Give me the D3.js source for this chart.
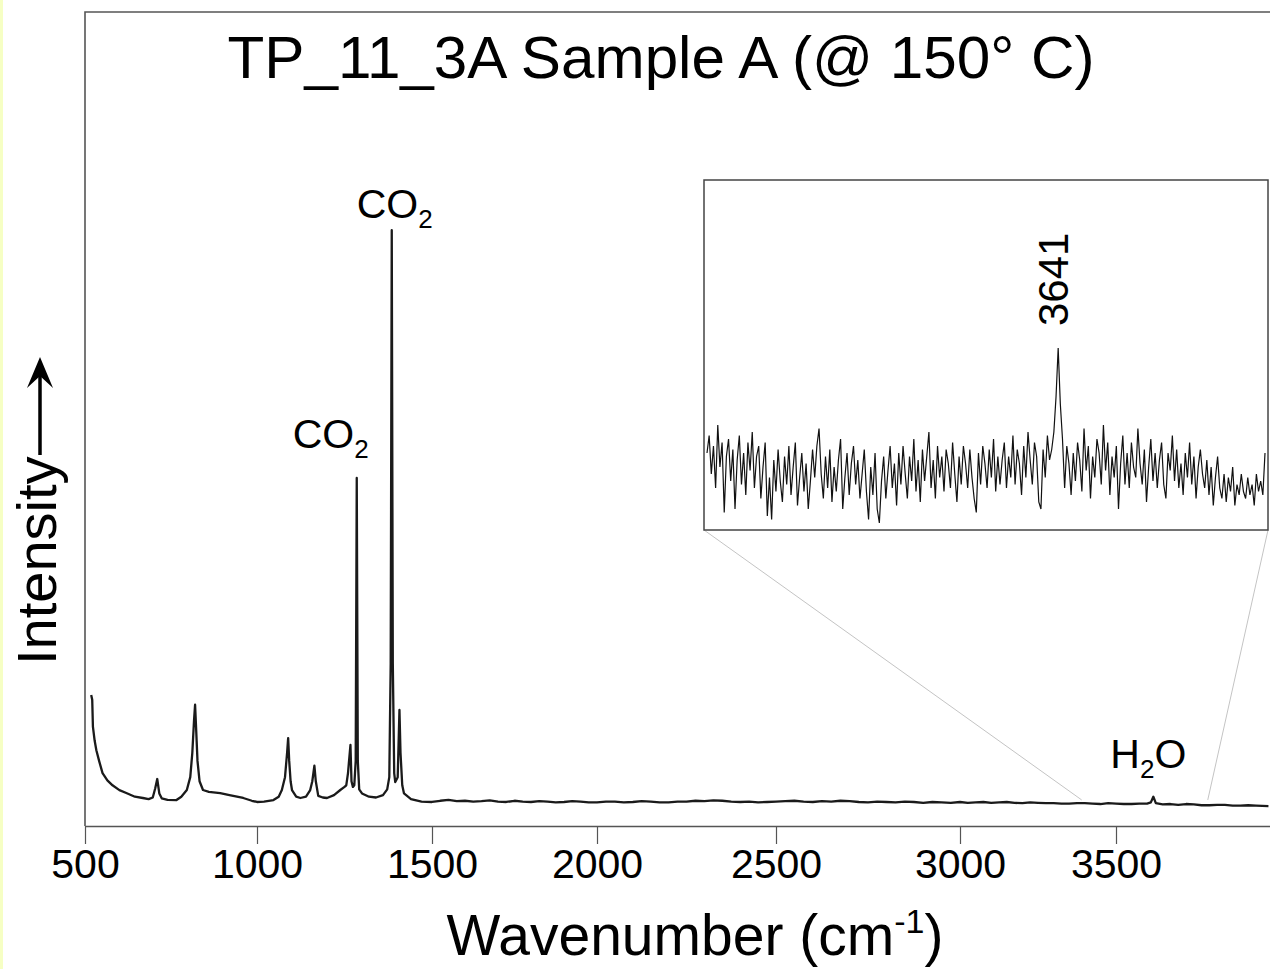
<!DOCTYPE html>
<html>
<head>
<meta charset="utf-8">
<script src="https://cdn.jsdelivr.net/npm/d3@7"></script>
<style>
  body { margin: 0; background: #fff; }
  text { font-family: "Liberation Sans", Arial, sans-serif; fill: #000; }
</style>
</head>
<body>
<div id="chart"></div>
<script>
// tick values of the wavenumber axis (spacing on the original axis is uneven)
var xTicks = [500, 1000, 1500, 2000, 2500, 3000, 3500];

// main spectrum: [wavenumber, intensity]
var spectrum = [
    [518, 16.1], [521, 15.5], [523, 12.2], [528, 10.5], [533, 9.3], [541, 8.0], [551, 6.5],
    [565, 5.6], [580, 5.0], [600, 4.4], [620, 4.05], [645, 3.6], [668, 3.44], [685, 3.3],
    [697, 3.5], [704, 4.6], [710, 5.77], [716, 4.0], [723, 3.4], [740, 3.2], [766, 3.19],
    [780, 3.6], [796, 4.42], [806, 6.0], [812, 9.0], [817, 13.0], [820, 14.9], [823, 12.0],
    [827, 8.0], [833, 5.5], [843, 4.42], [860, 4.2], [893, 4.05], [920, 3.8], [960, 3.44],
    [985, 3.1], [1000, 2.95], [1020, 3.0], [1047, 3.19], [1062, 3.6], [1071, 4.42], [1080, 6.0],
    [1086, 9.0], [1089, 10.8], [1092, 8.0], [1096, 5.5], [1100, 4.42], [1112, 3.6], [1124, 3.44],
    [1140, 3.6], [1152, 4.42], [1158, 5.5], [1164, 7.4], [1168, 5.5], [1175, 3.7], [1188, 3.5],
    [1200, 3.44], [1220, 3.8], [1238, 4.42], [1250, 4.8], [1255, 5.0], [1260, 6.5], [1264, 8.5],
    [1267, 9.95], [1270, 5.5], [1274, 4.8], [1278, 5.0], [1282, 8.0], [1285, 42.75], [1288, 8.0],
    [1292, 4.5], [1300, 4.0], [1320, 3.6], [1340, 3.5], [1360, 3.8], [1372, 4.5], [1378, 6.0],
    [1382, 20.0], [1385, 73.2], [1388, 20.0], [1392, 6.5], [1395, 5.4], [1402, 6.0], [1407, 14.25],
    [1410, 9.0], [1415, 5.0], [1420, 4.0], [1440, 3.3], [1470, 3.0], [1500, 2.95], [1525, 3.1],
    [1550, 3.2], [1575, 3.05], [1600, 3.1], [1625, 3.0], [1650, 3.05], [1675, 3.15], [1700, 3.0],
    [1725, 2.95], [1750, 3.1], [1775, 3.0], [1800, 2.95], [1825, 3.05], [1850, 3.0], [1875, 2.9],
    [1900, 2.95], [1925, 3.05], [1950, 3.0], [1975, 2.9], [2000, 2.9], [2025, 3.0], [2050, 3.0],
    [2075, 2.9], [2100, 2.95], [2125, 3.05], [2150, 3.0], [2175, 2.9], [2200, 2.9], [2225, 3.0],
    [2250, 3.0], [2275, 3.1], [2300, 3.05], [2325, 3.15], [2350, 3.1], [2375, 3.0], [2400, 2.95],
    [2425, 3.0], [2450, 2.9], [2475, 2.95], [2500, 3.0], [2525, 3.05], [2550, 3.1], [2575, 3.0],
    [2600, 2.95], [2625, 3.05], [2650, 3.0], [2675, 3.1], [2700, 3.05], [2725, 2.95], [2750, 2.9],
    [2775, 3.0], [2800, 2.95], [2825, 2.9], [2850, 3.0], [2875, 2.95], [2900, 2.85], [2925, 2.95],
    [2950, 2.9], [2975, 2.85], [3000, 2.95], [3025, 2.85], [3050, 2.9], [3075, 2.95], [3100, 2.85],
    [3125, 2.9], [3150, 2.95], [3175, 2.85], [3200, 2.8], [3225, 2.9], [3250, 2.85], [3275, 2.8],
    [3300, 2.8], [3325, 2.75], [3350, 2.75], [3375, 2.8], [3400, 2.8], [3425, 2.75], [3450, 2.7],
    [3475, 2.8], [3500, 2.75], [3525, 2.7], [3550, 2.7], [3575, 2.75], [3600, 2.75], [3612, 2.9],
    [3620, 3.6], [3628, 2.8], [3650, 2.65], [3675, 2.7], [3700, 2.6], [3725, 2.7], [3750, 2.65],
    [3775, 2.55], [3800, 2.55], [3825, 2.6], [3850, 2.6], [3875, 2.5], [3900, 2.5], [3925, 2.55],
    [3950, 2.5], [3990, 2.45]
]

// zoomed region shown in the inset
var insetRange = [3390, 3795]
var insetCounts = [
    22,27,16,24,12,30,18,25,5,21,
    26,14,23,6,20,27,13,22,10,25,
    17,28,12,21,24,9,18,25,4,15,
    3,20,11,23,14,8,21,13,24,10,
    18,25,7,15,22,11,19,6,14,23,
    15,24,29,16,9,21,12,23,8,18,
    11,20,26,6,15,22,10,19,24,13,
    20,9,16,23,11,3,18,10,22,6,
    2,14,21,9,17,24,12,19,7,22,
    13,24,16,9,21,14,26,11,20,8,
    23,14,21,28,12,20,9,24,15,21,
    11,23,19,12,25,16,8,21,13,24,
    19,12,23,15,9,5,22,13,24,19,
    12,23,15,26,11,21,13,20,25,12,
    21,15,27,13,23,19,10,24,15,28,
    20,13,25,21,8,6,23,15,27,20,
    23,28,38,52,36,26,12,24,19,10,
    22,14,25,20,11,29,17,24,9,21,
    15,26,22,13,30,17,25,10,21,15,
    24,6,19,27,13,22,12,25,18,15,
    29,19,13,23,8,18,26,14,22,12,
    20,25,13,9,22,17,27,14,23,12,
    19,10,22,15,25,13,21,9,18,23,
    16,12,20,10,18,7,15,21,12,9,
    16,8,15,11,18,7,13,10,16,11,
    9,15,10,13,7,16,11,14,10,22
]

// peak labels
var co2Peaks = [1285, 1385]
var waterPeak = 3620
var insetPeak = 3641

var W = 1270, H = 969
var frame = { left: 85, top: 12, bottom: 826 }

var svg = d3.select("#chart")
    .append("svg")
        .attr("width", W)
        .attr("height", H)

svg.append("rect")
    .attr("width", W).attr("height", H)
    .attr("fill", "#fff")

svg.append("rect")
    .attr("width", 3).attr("height", H)
    .attr("fill", "#f6ffc4")

var x = d3.scaleLinear()
    .domain([500, 1000, 1500, 2000, 2500, 3000, 3500, 3995])
    .range([85, 257, 432, 597, 776, 960, 1116, 1270])

var y = d3.scaleLinear()
    .domain([0, 100])
    .range([frame.bottom, frame.top])

// frame
svg.append("path")
    .attr("d", "M" + W + "," + frame.top + "H" + frame.left + "V" + frame.bottom)
    .attr("fill", "none")
    .attr("stroke", "#555")
    .attr("stroke-width", 1.6)

var x_axis = d3.axisBottom(x)
    .tickValues(xTicks)
    .tickSize(18)
    .tickSizeOuter(0)
    .tickPadding(6)
    .tickFormat(d3.format("d"))

var xAxisCall = svg.append("g")
    .attr("transform", "translate(0," + frame.bottom + ")")
    .call(x_axis)

xAxisCall.select(".domain").attr("stroke", "#555").attr("stroke-width", 1.6)
xAxisCall.selectAll(".tick line").attr("stroke", "#555").attr("stroke-width", 1.2)
xAxisCall.selectAll(".tick text")
    .attr("font-size", "41px")
    .attr("font-family", "Liberation Sans, Arial, sans-serif")
    .attr("fill", "#000")
    .attr("dy", "0.68em")

// connector lines from the inset to the zoomed region
var inset = { left: 704, right: 1268, top: 180, bottom: 530 }

svg.append("line")
    .attr("x1", inset.left).attr("y1", inset.bottom)
    .attr("x2", x(insetRange[0])).attr("y2", y(3.2))
    .attr("stroke", "#c4c4c4").attr("stroke-width", 1)

svg.append("line")
    .attr("x1", inset.right).attr("y1", inset.bottom)
    .attr("x2", x(insetRange[1])).attr("y2", y(3.2))
    .attr("stroke", "#c4c4c4").attr("stroke-width", 1)

svg.append("path")
    .datum(spectrum)
    .attr("fill", "none")
    .attr("stroke", "#1a1a1a")
    .attr("stroke-width", 2.3)
    .attr("stroke-linejoin", "round")
    .attr("d", d3.line()
        .x(function(d){ return x(d[0]); })
        .y(function(d){ return y(d[1]); }))

// inset
var ix = d3.scaleLinear()
    .domain(insetRange)
    .range([inset.left + 3, inset.right - 3])

var iy = d3.scaleLinear()
    .domain([0, 100])
    .range([inset.bottom, inset.top])

var step = (insetRange[1] - insetRange[0]) / (insetCounts.length - 1)

svg.append("rect")
    .attr("x", inset.left).attr("y", inset.top)
    .attr("width", inset.right - inset.left)
    .attr("height", inset.bottom - inset.top)
    .attr("fill", "#fff")
    .attr("stroke", "#444")
    .attr("stroke-width", 1.5)

svg.append("path")
    .datum(insetCounts)
    .attr("fill", "none")
    .attr("stroke", "#111")
    .attr("stroke-width", 1.2)
    .attr("d", d3.line()
        .x(function(d, i){ return ix(insetRange[0] + i * step); })
        .y(function(d){ return iy(d); }))

svg.append("text")
    .attr("transform", "translate(" + (ix(insetPeak) + 15) + "," + 326 + ") rotate(-90)")
    .attr("font-size", "42px")
    .text(insetPeak)

// peak labels
function co2Label(px, py){
    var t = svg.append("text")
        .attr("x", px)
        .attr("y", py)
        .attr("font-size", "41px")
    t.append("tspan").text("CO")
    t.append("tspan").attr("font-size", "26px").attr("dy", 10).text("2")
}
co2Label(x(co2Peaks[0]) - 64, 448)
co2Label(x(co2Peaks[1]) - 35, 218)

var water = svg.append("text")
    .attr("x", x(waterPeak) - 43)
    .attr("y", 768)
    .attr("font-size", "41px")
water.append("tspan").text("H")
water.append("tspan").attr("font-size", "26px").attr("dy", 10).text("2")
water.append("tspan").attr("dy", -10).text("O")

// titles
svg.append("text")
    .attr("x", 661)
    .attr("y", 78)
    .attr("text-anchor", "middle")
    .attr("font-size", "59px")
    .attr("textLength", 867)
    .attr("lengthAdjust", "spacingAndGlyphs")
    .text("TP_11_3A Sample A (@ 150° C)")

var xl = svg.append("text")
    .attr("x", 695)
    .attr("y", 955)
    .attr("text-anchor", "middle")
    .attr("font-size", "57px")
xl.append("tspan").text("Wavenumber (cm")
xl.append("tspan").attr("font-size", "34px").attr("dy", -22).text("-1")
xl.append("tspan").attr("dy", 22).text(")")

svg.append("text")
    .attr("transform", "translate(56,665) rotate(-90)")
    .attr("font-size", "56px")
    .text("Intensity")

var arrow = svg.append("g")
arrow.append("line")
    .attr("x1", 40).attr("y1", 455)
    .attr("x2", 40).attr("y2", 372)
    .attr("stroke", "#000").attr("stroke-width", 3.5)
arrow.append("path")
    .attr("d", "M40,357 L53,388 L40,376 L27,388 Z")
    .attr("fill", "#000")
</script>
</body>
</html>
